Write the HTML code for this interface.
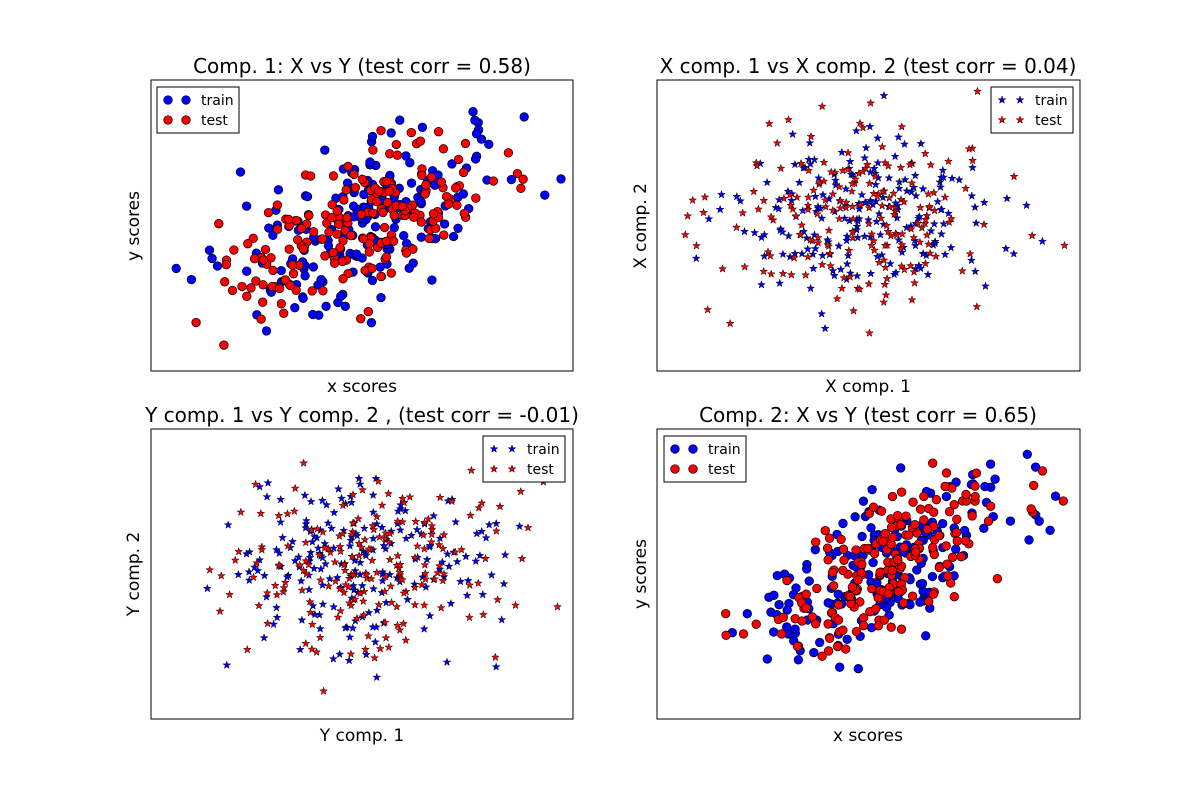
<!DOCTYPE html>
<html><head><meta charset="utf-8"><style>
html,body{margin:0;padding:0;background:#fff;}
svg{display:block;font-family:"DejaVu Sans","Liberation Sans",sans-serif;}
</style></head><body>
<svg id="s" width="1200" height="800" xmlns="http://www.w3.org/2000/svg">
<rect width="1200" height="800" fill="#fff"/>
<g id="pts"></g>
<g fill="none" stroke="#000" stroke-width="1">
<rect x="151" y="80" width="422" height="291"/>
<rect x="657" y="80" width="423" height="291"/>
<rect x="151" y="429" width="422" height="290"/>
<rect x="657" y="429" width="423" height="290"/>
</g>
<g font-size="20" text-anchor="middle" fill="#000">
<text x="362" y="73">Comp. 1: X vs Y (test corr = 0.58)</text>
<text x="868" y="73">X comp. 1 vs X comp. 2 (test corr = 0.04)</text>
<text x="362" y="422">Y comp. 1 vs Y comp. 2 , (test corr = -0.01)</text>
<text x="868" y="422">Comp. 2: X vs Y (test corr = 0.65)</text>
</g>
<g font-size="17" text-anchor="middle" fill="#000">
<text x="362" y="392">x scores</text>
<text x="868" y="392">X comp. 1</text>
<text x="362" y="741">Y comp. 1</text>
<text x="868" y="741">x scores</text>
<text transform="translate(139,226) rotate(-90)">y scores</text>
<text transform="translate(646,226) rotate(-90)">X comp. 2</text>
<text transform="translate(139,574) rotate(-90)">Y comp. 2</text>
<text transform="translate(646,574) rotate(-90)">y scores</text>
</g>
<g id="leg"></g>
</svg>
<script>
var seed=777;function r(){seed=(seed*1103515245+12345)%2147483648;return seed/2147483648;}
function g(){var u=r()||1e-9,v=r();return Math.sqrt(-2*Math.log(u))*Math.cos(2*Math.PI*v);}
var P=document.getElementById('pts'),out='';
function circ(x,y,c){return '<circle cx="'+x.toFixed(1)+'" cy="'+y.toFixed(1)+'" r="4.3" fill="'+c+'" stroke="#000" stroke-width="0.7"/>';}
function star(x,y,c){var p=[];for(var i=0;i<10;i++){var a=-Math.PI/2+i*Math.PI/5,rr=i%2?1.6:4;p.push((x+rr*Math.cos(a)).toFixed(1)+','+(y+rr*Math.sin(a)).toFixed(1));}return '<polygon points="'+p.join(' ')+'" fill="'+c+'" stroke="#000" stroke-width="0.5"/>';}
function cloud(cx,cy,sx,sy,rho,n,shape,x0,x1,y0,y1){['#0000ff','#ff0000'].forEach(function(c){for(var i=0;i<n;i++){var a=g(),b=g();var x=cx+sx*a,y=cy-sy*(rho*a+Math.sqrt(1-rho*rho)*b);if(x<x0||x>x1||y<y0||y>y1)continue;out+=(shape=='c'?circ(x,y,c):star(x,y,c));}});}
cloud(365,225,70,45,0.65,200,'c',160,562,90,350);
cloud(862,215,68,45,0.03,200,'s',663,1074,90,355);
cloud(362,565,72,42,0.0,200,'s',175,560,455,705);
cloud(885,565,60,45,0.65,200,'c',680,1065,450,705);
P.innerHTML=out;
var L='';
function leg(x,y,shape){L+='<rect x="'+x+'" y="'+y+'" width="82" height="46" fill="#fff" stroke="#000"/>';
[['#0000ff','train',y+13],['#ff0000','test',y+33]].forEach(function(t){var f=shape=='c'?circ:star;L+=f(x+11,t[2],t[0])+f(x+29,t[2],t[0])+'<text x="'+(x+44)+'" y="'+(t[2]+5)+'" font-size="14">'+t[1]+'</text>';});}
leg(157,87,'c');leg(991,87,'s');leg(483,436,'s');leg(664,436,'c');
document.getElementById('leg').innerHTML=L;
</script>
</body></html>
